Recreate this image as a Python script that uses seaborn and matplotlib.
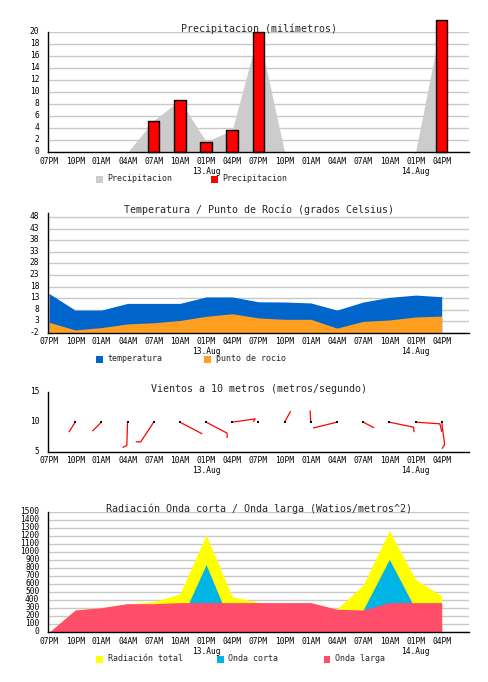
import matplotlib
matplotlib.use("Agg")
import matplotlib.pyplot as plt
import matplotlib.transforms as mtransforms
from matplotlib.patches import Rectangle
import seaborn as sns

OUTPUT_FILE_NAME = "out.png"

# hours since 07PM of 12.Aug, one value every 3 hours
HOURS = [0, 3, 6, 9, 12, 15, 18, 21, 24, 27, 30, 33, 36, 39, 42, 45]
TICK_LABELS = ["07PM", "10PM", "01AM", "04AM", "07AM", "10AM", "01PM\n13.Aug", "04PM",
               "07PM", "10PM", "01AM", "04AM", "07AM", "10AM", "01PM\n14.Aug", "04PM"]

PRECIP = [0, 0, 0, 0, 5.3, 8.7, 1.8, 3.7, 20.0, 0, 0, 0, 0, 0, 0, 22.0]

TEMP = [15.0, 7.8, 7.8, 10.7, 10.7, 10.7, 13.5, 13.5, 11.4, 11.3, 10.9, 7.8, 11.3, 13.3, 14.3, 13.6]
DEW = [2.5, -0.8, 0.2, 1.8, 2.3, 3.3, 5.1, 6.2, 4.4, 3.8, 3.8, 0.0, 2.9, 3.5, 4.8, 5.2]

# wind sticks, drawn from the base line at 10
WIND_HOURS = [3, 6, 9, 12, 15, 18, 21, 24, 27, 30, 33, 36, 39, 42, 45]
WIND_BASE = 10
WIND_DX = [-0.72, -1.03, -0.08, -1.49, 2.56, 2.41, 2.64, 0.0, 0.69, -0.08, -2.64, 1.26, 2.76, 2.79, 0.34]
WIND_DY = [-1.68, -1.51, -3.90, -3.30, -1.96, -1.84, 0.55, 0.0, 1.84, 1.96, -0.95, -0.95, -0.84, -0.28, -3.74]
HOOK_DX = [0, 0, -0.49, -0.57, 0, 0, -0.23, 0, 0, 0, -0.11, 0, 0.08, 0.23, -0.31]
HOOK_DY = [0, 0, -0.34, 0, 0, -0.79, -0.50, 0, 0, 0, 0, 0, -0.84, -1.34, -0.72]

RAD_TOTAL = [0, 279, 308, 355, 383, 479, 1217, 446, 375, 365, 360, 290, 592, 1271, 662, 454]
RAD_CORTA = [0, 0, 0, 0, 25, 123, 846, 60, 0, 0, 0, 0, 280, 912, 288, 83]
RAD_LARGA = [0, 279, 308, 358, 358, 371, 371, 371, 371, 371, 371, 288, 279, 371, 371, 371]

W, H = 488, 682
GRID = "#c8c8c8"


def make_axes(fig, top, bottom, ylim, yticks, title, grid=True):
    ax = fig.add_axes([48.3 / W, 1 - bottom / H, 420.7 / W, (bottom - top) / H])
    ax.set_xlim(-0.08, 48.13)
    ax.set_ylim(*ylim)
    for s in ["top", "right"]:
        ax.spines[s].set_visible(False)
    for s in ["left", "bottom"]:
        ax.spines[s].set_color("black")
        ax.spines[s].set_linewidth(1)
        ax.spines[s].set_zorder(5)
    ax.set_xticks(HOURS)
    ax.set_xticklabels(TICK_LABELS, fontsize=5.7, linespacing=1.15)
    ax.set_yticks(yticks)
    ax.set_yticklabels([str(v) for v in yticks], fontsize=5.7)
    ax.tick_params(axis="x", direction="out", length=2.2, width=0.8, pad=1, colors="black")
    ax.tick_params(axis="y", direction="out", length=2.0, width=0.8, pad=4.5, colors="black")
    shift = mtransforms.ScaledTranslation(0, 1.5 / 100, fig.dpi_scale_trans)
    for lab in ax.get_yticklabels():
        lab.set_transform(lab.get_transform() + shift)
    if grid:
        ax.yaxis.grid(True, color=GRID, linewidth=1)
    else:
        ax.yaxis.grid(False)
    ax.xaxis.grid(False)
    ax.set_axisbelow(True)
    ax.text(0.5, 1.0, title, transform=ax.transAxes, ha="center", va="baseline", fontsize=7.2)
    return ax


def legend_entry(fig, xpx, ypx, color, label):
    fig.patches.append(Rectangle((xpx / W, 1 - (ypx + 3.3) / H), 6.7 / W, 6.7 / H,
                                 transform=fig.transFigure, facecolor=color, edgecolor="none"))
    fig.text((xpx + 11.5) / W, 1 - (ypx - 0.5) / H, label, va="center", ha="left", fontsize=6)


if __name__ == "__main__":
    sns.set_theme(style="white")
    plt.rcParams["font.family"] = ["DejaVu Sans Mono", "DejaVu Sans"]

    fig = plt.figure(figsize=(W / 100, H / 100), dpi=100)
    fig.patch.set_facecolor("white")

    # Precipitacion
    ax1 = make_axes(fig, 32.3, 152.3, (0, 20), list(range(0, 21, 2)), "Precipitacion (milímetros)")
    ax1.fill_between(HOURS, 0, PRECIP, color="#cccccc", linewidth=0, zorder=2)
    bar_h = [h for h, p in zip(HOURS, PRECIP) if p > 0]
    bar_v = [p for p in PRECIP if p > 0]
    ax1.bar(bar_h, bar_v, width=1.32, color="#ff0000", edgecolor="black", linewidth=1,
            zorder=3, clip_on=False)
    legend_entry(fig, 96, 179.3, "#cccccc", "Precipitacion")
    legend_entry(fig, 211, 179.3, "#ff0000", "Precipitacion")

    # Temperatura / punto de rocio
    ax2 = make_axes(fig, 212.7, 332.7, (-2, 50), list(range(-2, 49, 5)),
                    "Temperatura / Punto de Rocío (grados Celsius)")
    ax2.fill_between(HOURS, -2, TEMP, color="#0066cc", linewidth=0, zorder=2)
    ax2.fill_between(HOURS, -2, DEW, color="#ff9f22", linewidth=0, zorder=3)
    legend_entry(fig, 96, 359.3, "#0066cc", "temperatura")
    legend_entry(fig, 204, 359.3, "#ff9f22", "punto de rocio")

    # Vientos
    ax3 = make_axes(fig, 392.3, 452.0, (5, 15), [5, 10, 15],
                    "Vientos a 10 metros (metros/segundo)", grid=False)
    for h, dx, dy, hx, hy in zip(WIND_HOURS, WIND_DX, WIND_DY, HOOK_DX, HOOK_DY):
        ax3.plot([h, h + dx, h + dx + hx], [WIND_BASE, WIND_BASE + dy, WIND_BASE + dy + hy],
                 color="#ff0000", linewidth=0.9, zorder=3, solid_capstyle="butt")
    sns.scatterplot(x=WIND_HOURS, y=[WIND_BASE] * len(WIND_HOURS), ax=ax3, marker="s",
                    color="black", s=4, linewidth=0, zorder=4)

    # Radiacion
    ax4 = make_axes(fig, 512.3, 632.3, (0, 1500), list(range(0, 1501, 100)),
                    "Radiación Onda corta / Onda larga (Watios/metros^2)")
    ax4.fill_between(HOURS, 0, RAD_TOTAL, color="#ffff00", linewidth=0, zorder=2)
    ax4.fill_between(HOURS, 0, RAD_CORTA, color="#00b4e6", linewidth=0, zorder=3)
    ax4.fill_between(HOURS, 0, RAD_LARGA, color="#ff4d6a", linewidth=0, zorder=4)
    legend_entry(fig, 96, 659.3, "#ffff00", "Radiación total")
    legend_entry(fig, 217, 659.3, "#00b4e6", "Onda corta")
    legend_entry(fig, 323.7, 659.3, "#ff4d6a", "Onda larga")

    fig.savefig(OUTPUT_FILE_NAME, dpi=100)
